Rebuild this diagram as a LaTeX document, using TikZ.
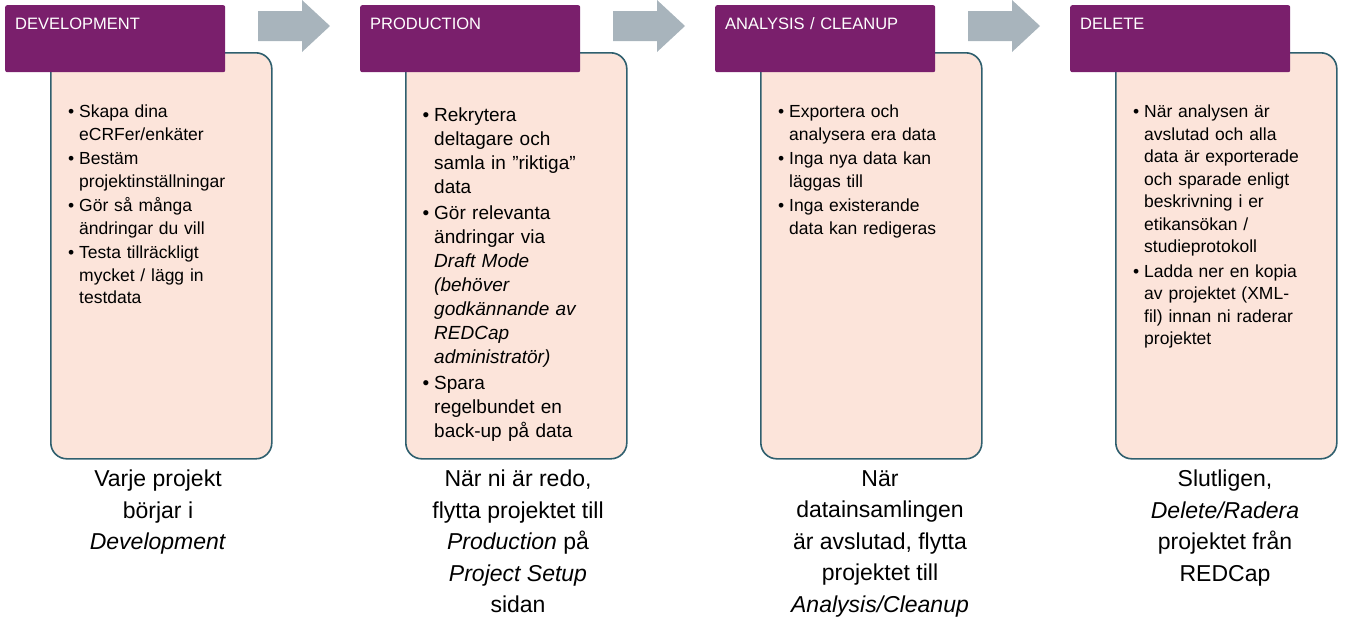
\documentclass[tikz,border=0pt]{standalone}
\usepackage{fontspec}
\setmainfont{Liberation Sans}
\usepackage{enumitem}
\usetikzlibrary{positioning}
\definecolor{headpurple}{HTML}{7A1F6C}
\definecolor{boxpink}{HTML}{FCE4DA}
\definecolor{boxline}{HTML}{2F5F6E}
\definecolor{arrowgray}{HTML}{A8B4BC}
\newcommand{\stagelist}[1]{\begin{itemize}[leftmargin=13pt,labelsep=5pt,itemsep=2pt,topsep=0pt,parsep=0pt]#1\end{itemize}}
\tikzset{
  headbox/.style={fill=headpurple,text width=200pt,align=left,inner xsep=10pt,inner ysep=12pt,
    text height=12pt,text depth=31pt,
    text=white,font=\fontsize{16.5}{19}\selectfont,anchor=north west,rounded corners=2pt},
  stagebox/.style={draw=boxline,fill=boxpink,line width=1.6pt,rounded corners=16pt,
    minimum width=221pt,minimum height=406pt,anchor=north west},
  stagetext/.style={anchor=north west,text width=178pt,inner sep=0pt,
    font=\fontsize{17.5}{22.5}\selectfont},
  bottomtext/.style={anchor=north,align=center,inner sep=0pt,
    font=\fontsize{23}{31.5}\selectfont},
  stagearrow/.style={fill=arrowgray}
}
\begin{document}
\begin{tikzpicture}[x=1pt,y=-1pt]
\useasboundingbox (0,0) rectangle (1351,625);

% stage 1
\node[stagebox] (devbox) at (50,52) {};
\node[headbox] (devhead) at (5,5) {DEVELOPMENT};
\node[stagetext] (devtext) at (66,95) {\stagelist{
  \item Skapa dina eCRFer/enkäter
  \item Bestäm projektinställningar
  \item Gör så många ändringar du vill
  \item Testa tillräckligt mycket / lägg in testdata}};
\node[bottomtext] (devnote) at (158,470) {Varje projekt\\börjar i\\\textit{Development}};

% stage 2
\node[stagebox] (prodbox) at (405,52) {};
\node[headbox] (prodhead) at (360,5) {PRODUCTION};
\node[stagetext,text width=166pt,font=\fontsize{19}{24}\selectfont] (prodtext) at (421,97) {\stagelist{
  \item Rekrytera deltagare och samla in ”riktiga” data
  \item Gör relevanta ändringar via \textit{Draft Mode (behöver godkännande av REDCap administratör)}
  \item Spara\\regelbundet en back-up på data}};
\node[bottomtext] (prodnote) at (518,470) {När ni är redo,\\flytta projektet till\\\textit{Production} på\\\textit{Project Setup}\\sidan};

% stage 3
\node[stagebox] (anabox) at (760,52) {};
\node[headbox] (anahead) at (715,5) {ANALYSIS / CLEANUP};
\node[stagetext,text width=172pt] (anatext) at (776,95) {\stagelist{
  \item Exportera och analysera era data
  \item Inga nya data kan läggas till
  \item Inga existerande data kan redigeras}};
\node[bottomtext] (ananote) at (880,470) {När\\datainsamlingen\\är avslutad, flytta\\projektet till\\\textit{Analysis/Cleanup}};

% stage 4
\node[stagebox] (delbox) at (1115,52) {};
\node[headbox] (delhead) at (1070,5) {DELETE};
\node[stagetext,text width=172pt] (deltext) at (1131,95) {\stagelist{
  \item När analysen är avslutad och alla data är exporterade och sparade enligt beskrivning i er etikansökan / studieprotokoll
  \item Ladda ner en kopia av projektet (XML-\\fil) innan ni raderar projektet}};
\node[bottomtext] (delnote) at (1225,470) {Slutligen,\\\textit{Delete/Radera}\\projektet från\\REDCap};

% arrows
\foreach \ax in {258,613,968}{
  \fill[stagearrow] (\ax,11) -- (\ax+44,11) -- (\ax+44,0) -- (\ax+72,26)
    -- (\ax+44,52) -- (\ax+44,41) -- (\ax,41) -- cycle;
}
\end{tikzpicture}
\end{document}
